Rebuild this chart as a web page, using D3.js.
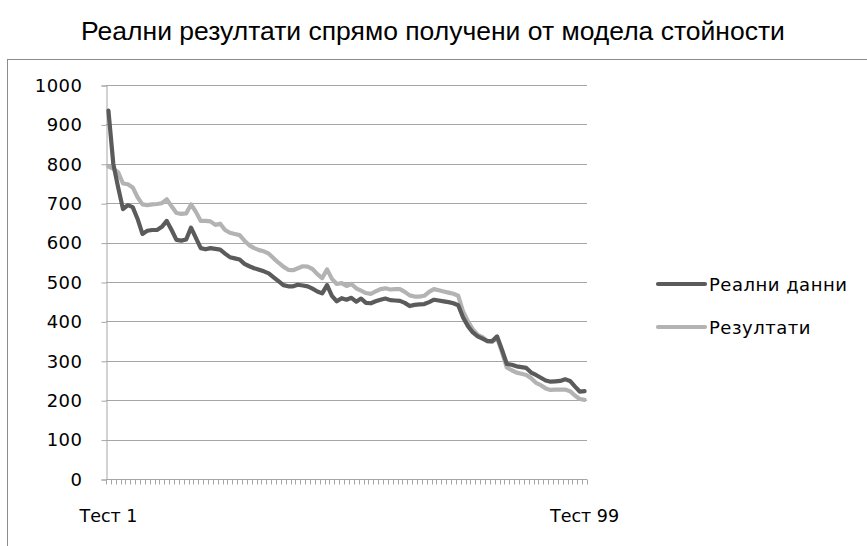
<!DOCTYPE html>
<html>
<head>
<meta charset="utf-8">
<script src="https://cdn.jsdelivr.net/npm/d3@7"></script>
<style>
  html, body { margin: 0; padding: 0; background: #fff; }
  svg { display: block; }
</style>
</head>
<body>
<svg id="chart" width="867" height="546"></svg>
<script>
// ---- data ----
const title = "Реални резултати спрямо получени от модела стойности";
const seriesNames = ["Реални данни", "Резултати"];
const categories = d3.range(1, 100).map(i => "Тест " + i);
const xTickLabels = ["Тест 1", "Тест 99"];
const yTicks = [0, 100, 200, 300, 400, 500, 600, 700, 800, 900, 1000];

const realData = [
  935, 800, 740, 685, 695, 690, 660, 622, 630, 632,
  632, 640, 655, 632, 607, 605, 608, 638, 612, 586,
  583, 586, 584, 582, 572, 563, 560, 557, 546, 540,
  535, 531, 527, 522, 512, 502, 492, 489, 489, 493,
  491, 489, 483, 476, 471, 492, 465, 451, 459, 455,
  460, 450, 458, 447, 446, 451, 455, 458, 454, 453,
  452, 447, 439, 442, 443, 444, 449, 455, 453, 451,
  449, 446, 441, 410, 388, 372, 362, 356, 350, 350,
  362, 328, 292, 290, 286, 284, 282, 270, 264, 257,
  250, 247, 248, 249, 253, 249, 235, 222, 223
];
const modelData = [
  793, 788, 778, 750, 748, 740, 715, 697, 695, 697,
  698, 700, 710, 692, 675, 673, 674, 697, 678, 655,
  655, 654, 645, 648, 632, 625, 622, 619, 605, 593,
  586, 581, 578, 572, 560, 549, 539, 531, 530, 535,
  540, 539, 533, 520, 510, 532, 508, 495, 497, 490,
  495, 484, 478, 472, 470, 476, 482, 484, 481, 482,
  482, 475, 466, 463, 463, 465, 475, 482, 479, 476,
  473, 470, 465, 425, 400, 380, 366, 360, 350, 348,
  358, 322, 283, 276, 270, 267, 264, 256, 244, 238,
  230, 226, 227, 227, 227, 223, 212, 203, 201
];

// ---- layout ----
const W = 867, H = 546;
const plot = { left: 106, right: 587, top: 85, bottom: 479 };
const colors = ["#5b5b5b", "#b3b3b3"];
const gridColor = "#a6a6a6";
const labelFont = "'DejaVu Sans', Verdana, sans-serif";
const labelSize = 18;
const labelSpacing = "0.5px";

const svg = d3.select("#chart");

// chart frame (clipped at right/bottom like the reference)
svg.append("rect")
  .attr("x", 7.5).attr("y", 59.5)
  .attr("width", 1000).attr("height", 1000)
  .attr("fill", "none").attr("stroke", "#8c8c8c").attr("stroke-width", 1);

// title
svg.append("text")
  .attr("x", 433).attr("y", 40)
  .attr("text-anchor", "middle")
  .attr("font-family", "'Liberation Sans', Arial, sans-serif")
  .attr("font-size", 26.5)
  .attr("fill", "#000")
  .text(title);

const x = d3.scaleBand().domain(categories).range([plot.left, plot.right]).padding(0);
const y = d3.scaleLinear().domain([0, 1000]).range([plot.bottom, plot.top]);
const cx = c => x(c) + x.bandwidth() / 2;

// gridlines
svg.append("g")
  .selectAll("line")
  .data(yTicks.filter(d => d > 0))
  .join("line")
  .attr("x1", plot.left).attr("x2", plot.right)
  .attr("y1", d => Math.round(y(d)) + 0.5).attr("y2", d => Math.round(y(d)) + 0.5)
  .attr("stroke", gridColor).attr("stroke-width", 1);

// y axis
const yAxis = d3.axisLeft(y).tickValues(yTicks).tickSize(5).tickPadding(19).tickFormat(d3.format("d"));
const gy = svg.append("g").attr("transform", `translate(${plot.left + 0.5},0.5)`).call(yAxis);
gy.select(".domain").attr("stroke", gridColor);
gy.selectAll(".tick line").attr("stroke", gridColor);
gy.selectAll(".tick text")
  .attr("font-family", labelFont).attr("font-size", labelSize)
  .attr("letter-spacing", labelSpacing).attr("fill", "#000");

// x axis (ticks between categories)
const gx = svg.append("g");
gx.append("line")
  .attr("x1", plot.left).attr("x2", plot.right)
  .attr("y1", Math.round(y(0)) + 0.5).attr("y2", Math.round(y(0)) + 0.5)
  .attr("stroke", gridColor);
const boundaries = categories.map(c => x(c)).concat([plot.right]);
gx.selectAll("line.tk")
  .data(boundaries)
  .join("line").attr("class", "tk")
  .attr("x1", d => Math.round(d) + 0.5).attr("x2", d => Math.round(d) + 0.5)
  .attr("y1", Math.round(y(0)) + 0.5).attr("y2", Math.round(y(0)) + 5.5)
  .attr("stroke", gridColor);
gx.selectAll("text")
  .data(xTickLabels)
  .join("text")
  .attr("x", d => cx(d)).attr("y", 522)
  .attr("text-anchor", "middle")
  .attr("font-family", labelFont).attr("font-size", labelSize - 0.5).attr("fill", "#000")
  .text(d => d);

// lines
const series = [realData, modelData];
const line = d3.line().x((d, i) => cx(categories[i])).y(d => y(d));
svg.append("g")
  .selectAll("path")
  .data([1, 0])
  .join("path")
  .attr("d", k => line(series[k]))
  .attr("fill", "none")
  .attr("stroke", k => colors[k])
  .attr("stroke-width", 4.2)
  .attr("stroke-linejoin", "round")
  .attr("stroke-linecap", "round");

// legend
const legend = svg.append("g");
const legY = [284, 327];
seriesNames.forEach((name, k) => {
  legend.append("line")
    .attr("x1", 658).attr("x2", 705)
    .attr("y1", legY[k]).attr("y2", legY[k])
    .attr("stroke", colors[k]).attr("stroke-width", 4.2).attr("stroke-linecap", "round");
  legend.append("text")
    .attr("x", 709).attr("y", legY[k] + 6.5)
    .attr("font-family", labelFont).attr("font-size", labelSize)
    .attr("letter-spacing", labelSpacing).attr("fill", "#000")
    .text(name);
});
</script>
</body>
</html>
